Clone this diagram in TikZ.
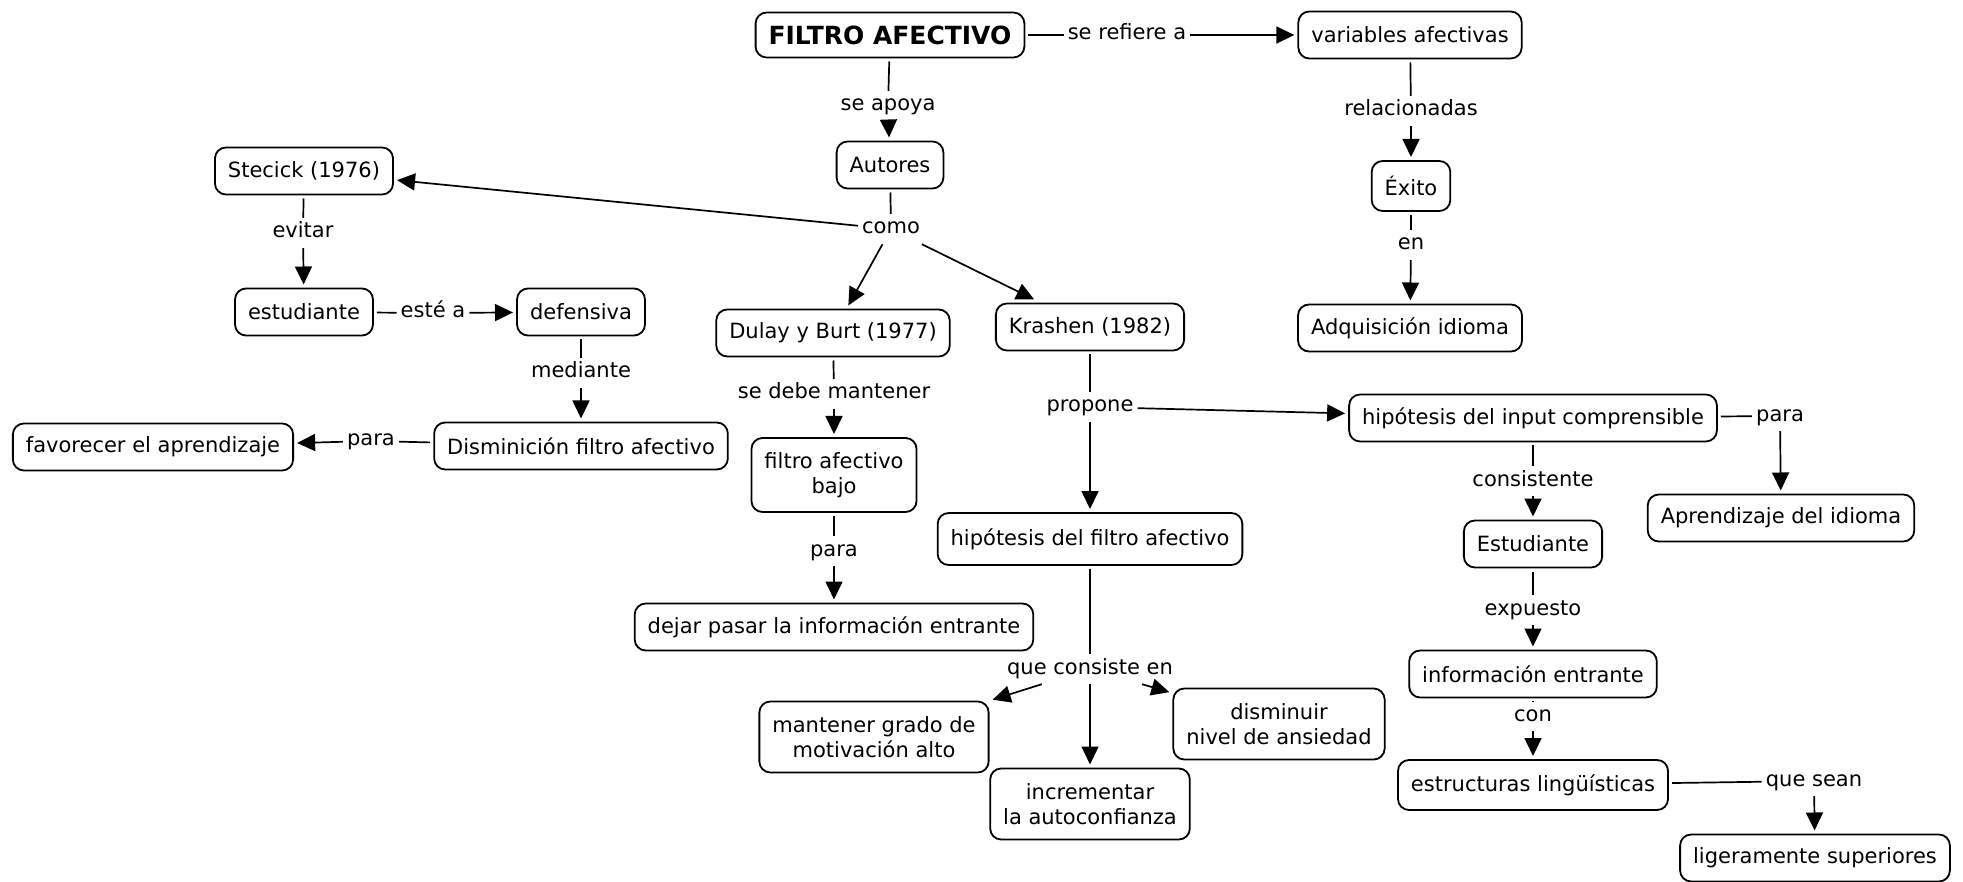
\documentclass[tikz,border=0pt]{standalone}
\usepackage{fontspec}
\setmainfont{DejaVu Sans}
\usetikzlibrary{arrows.meta}
\begin{document}
\begin{tikzpicture}[x=1pt,y=-1pt,
  box/.style={draw,line width=1.8pt,rounded corners=11pt,inner xsep=13pt,inner ysep=9pt,
    minimum height=47pt,align=center,outer sep=4pt,font=\fontsize{21}{25}\selectfont},
  twoline/.style={box,minimum height=71pt},
  lbl/.style={inner xsep=4pt,inner ysep=5pt,text height=15pt,text depth=5pt,
    font=\fontsize{21}{25}\selectfont},
  conn/.style={line width=1.7pt},
  arr/.style={conn,-{Triangle[length=18pt,width=17pt]}}]
\fill[white] (0,0) rectangle (1963,882);
\useasboundingbox (0,0) rectangle (1963,882);

% concepts
\node[box,font=\fontsize{25}{28}\bfseries,minimum height=45pt] (fa) at (890,35) {FILTRO AFECTIVO};
\node[box] (va) at (1410,35) {variables afectivas};
\node[box] (au) at (890,165) {Autores};
\node[box] (st) at (304,171) {Stecick (1976)};
\node[box,minimum height=50pt] (ex) at (1411,186) {Éxito};
\node[box] (es) at (304,312) {estudiante};
\node[box] (de) at (581,312) {defensiva};
\node[box] (du) at (833,333) {Dulay y Burt (1977)};
\node[box] (kr) at (1090,327) {Krashen (1982)};
\node[box] (ad) at (1410,328) {Adquisición idioma};
\node[box] (hi) at (1533,418) {hipótesis del input comprensible};
\node[box] (fv) at (153,447) {favorecer el aprendizaje};
\node[box] (di) at (581,446) {Disminición filtro afectivo};
\node[twoline,minimum height=74pt] (fb) at (834,475) {filtro afectivo\\bajo};
\node[box,minimum height=52pt] (hf) at (1090,539) {hipótesis del filtro afectivo};
\node[box] (ap) at (1781,518) {Aprendizaje del idioma};
\node[box] (eu) at (1533,544) {Estudiante};
\node[box] (dp) at (834,627) {dejar pasar la información entrante};
\node[box] (ie) at (1533,674) {información entrante};
\node[twoline] (mg) at (874,737) {mantener grado de\\motivación alto};
\node[twoline] (dn) at (1279,724) {disminuir\\nivel de ansiedad};
\node[twoline] (ic) at (1090,804) {incrementar\\la autoconfianza};
\node[box,minimum height=50pt] (el) at (1533,785) {estructuras lingüísticas};
\node[box] (ls) at (1815,858) {ligeramente superiores};

% linking phrases
\node[lbl] (l1) at (1127,35) {se refiere a};
\node[lbl] (l2) at (888,106) {se apoya};
\node[lbl] (l3) at (1411,111) {relacionadas};
\node[lbl] (l4) at (891,229) {como};
\node[lbl] (l5) at (303,233) {evitar};
\node[lbl] (l6) at (1411,245) {en};
\node[lbl] (l7) at (433,313) {esté a};
\node[lbl] (l8) at (581,373) {mediante};
\node[lbl] (l9) at (371,441) {para};
\node[lbl] (l10) at (834,394) {se debe mantener};
\node[lbl] (l11) at (1090,407) {propone};
\node[lbl] (l12) at (1780,416) {para};
\node[lbl] (l13) at (1533,481) {consistente};
\node[lbl] (l14) at (834,551) {para};
\node[lbl] (l15) at (1533,610) {expuesto};
\node[lbl] (l16) at (1090,669) {que consiste en};
\node[lbl] (l17) at (1533,716) {con};
\node[lbl] (l18) at (1814,781) {que sean};

% connectors
\draw[conn] (fa) -- (l1); \draw[arr] (l1) -- (va);
\draw[conn] (fa) -- (l2); \draw[arr] (l2) -- (au);
\draw[conn] (va) -- (l3); \draw[arr] (l3) -- (ex);
\draw[conn] (ex) -- (l6); \draw[arr] (l6) -- (ad);
\draw[conn] (au) -- (l4);
\draw[arr] (l4) -- (st);
\draw[arr] (l4) -- (du);
\draw[arr] (l4) -- (kr);
\draw[conn] (st) -- (l5); \draw[arr] (l5) -- (es);
\draw[conn] (es) -- (l7); \draw[arr] (l7) -- (de);
\draw[conn] (de) -- (l8); \draw[arr] (l8) -- (di);
\draw[conn] (di) -- (l9); \draw[arr] (l9) -- (fv);
\draw[conn] (du) -- (l10); \draw[arr] (l10) -- (fb);
\draw[conn] (fb) -- (l14); \draw[arr] (l14) -- (dp);
\draw[conn] (kr) -- (l11);
\draw[arr] (l11) -- (hi);
\draw[arr] (l11) -- (hf);
\draw[conn] (hi) -- (l12); \draw[arr] (l12) -- (ap);
\draw[conn] (hi) -- (l13); \draw[arr] (l13) -- (eu);
\draw[conn] (eu) -- (l15); \draw[arr] (l15) -- (ie);
\draw[conn] (ie) -- (l17); \draw[arr] (l17) -- (el);
\draw[conn] (el) -- (l18); \draw[arr] (l18) -- (ls);
\draw[conn] (hf) -- (l16);
\draw[arr] (l16) -- (mg);
\draw[arr] (l16) -- (ic);
\draw[arr] (l16) -- (dn);
\end{tikzpicture}
\end{document}
